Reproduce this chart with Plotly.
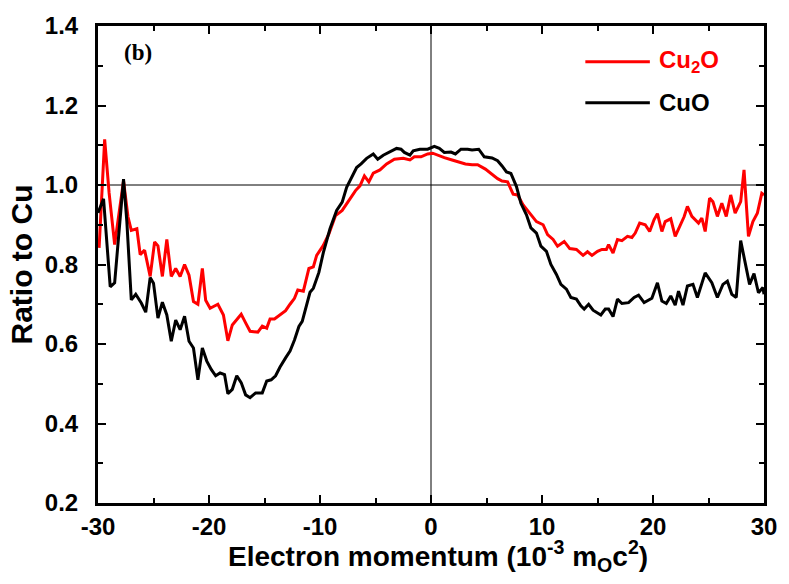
import plotly.graph_objects as go

# Cu2O / Cu ratio curve
cu2o_x = [-29.9, -29.4, -29.0, -28.5, -27.7, -27.3, -27.0, -26.5, -26.2, -25.8,
          -25.3, -24.9, -24.6, -24.2, -23.8, -23.4, -23.0, -22.6, -22.2, -21.8,
          -21.4, -21.0, -20.6, -20.3, -19.9, -19.2, -18.7, -18.3, -17.9, -17.1,
          -16.7, -16.3, -15.6, -15.2, -14.8, -14.5, -14.1, -13.6, -13.1, -12.7,
          -12.3, -12.0, -11.5, -11.0, -10.6, -10.3, -9.7, -9.2, -8.6, -8.0,
          -7.4, -6.8, -6.4, -6.0, -5.6, -5.2, -4.6, -4.0, -3.3, -2.5,
          -1.9, -1.5, -0.9, -0.3, 0.15, 0.6, 1.2, 1.9, 2.5, 3.1,
          3.7, 4.2, 4.9, 5.5, 6.0, 6.4, 6.9, 7.4, 7.8, 8.3,
          8.9, 9.5, 10.1, 10.5, 11.0, 11.4, 12.0, 12.5, 13.1, 13.7,
          14.1, 14.5, 15.0, 15.4, 15.8, 16.0, 16.4, 16.8, 17.2, 17.7,
          18.1, 18.4, 18.8, 19.3, 19.7, 20.1, 20.4, 20.8, 21.1, 21.6,
          22.0, 22.4, 22.8, 23.1, 23.5, 24.1, 24.4, 24.7, 25.1, 25.4,
          25.8, 26.2, 26.6, 27.0, 27.4, 27.9, 28.2, 28.6, 29.0, 29.4,
          29.8, 30.0]
cu2o_y = [0.842, 1.115, 0.980, 0.850, 1.010, 0.920, 0.886, 0.890, 0.825, 0.836,
          0.770, 0.857, 0.847, 0.770, 0.863, 0.770, 0.790, 0.770, 0.800, 0.773,
          0.707, 0.700, 0.790, 0.710, 0.690, 0.700, 0.673, 0.608, 0.648, 0.675,
          0.653, 0.632, 0.630, 0.645, 0.640, 0.663, 0.663, 0.673, 0.684, 0.700,
          0.715, 0.736, 0.733, 0.790, 0.794, 0.823, 0.848, 0.877, 0.923, 0.936,
          0.960, 0.986, 0.998, 1.023, 1.008, 1.030, 1.038, 1.053, 1.065, 1.067,
          1.063, 1.071, 1.071, 1.078, 1.080, 1.075, 1.069, 1.063, 1.058, 1.053,
          1.051, 1.051, 1.040, 1.026, 1.016, 1.010, 1.008, 0.977, 0.975, 0.950,
          0.929, 0.908, 0.900, 0.875, 0.863, 0.846, 0.858, 0.840, 0.838, 0.823,
          0.832, 0.823, 0.833, 0.838, 0.838, 0.850, 0.829, 0.863, 0.860, 0.871,
          0.868, 0.879, 0.904, 0.900, 0.883, 0.913, 0.928, 0.883, 0.908, 0.915,
          0.871, 0.896, 0.920, 0.946, 0.921, 0.904, 0.917, 0.883, 0.967, 0.958,
          0.921, 0.954, 0.921, 0.975, 0.929, 0.958, 1.038, 0.871, 0.908, 0.929,
          0.979, 0.975]

# CuO / Cu ratio curve
cuo_x = [-30.0, -29.5, -28.9, -28.5, -27.7, -27.4, -27.0, -26.6, -26.1, -25.7,
         -25.3, -25.0, -24.6, -24.2, -23.8, -23.4, -23.0, -22.6, -22.2, -21.8,
         -21.4, -21.0, -20.6, -20.2, -19.8, -19.4, -19.0, -18.6, -18.3, -17.9,
         -17.5, -17.1, -16.7, -16.3, -15.8, -15.2, -14.8, -14.4, -14.0, -13.6,
         -13.1, -12.7, -12.3, -11.9, -11.6, -11.3, -10.9, -10.6, -10.1, -9.7,
         -9.1, -8.5, -8.0, -7.6, -7.2, -6.7, -6.3, -5.8, -5.2, -4.8,
         -4.3, -3.7, -3.1, -2.7, -2.4, -1.9, -1.6, -1.0, -0.3, 0.3,
         0.75, 1.2, 1.8, 2.2, 2.7, 3.3, 3.7, 4.3, 4.8, 5.5,
         6.0, 6.4, 6.8, 7.2, 7.7, 8.1, 8.6, 9.0, 9.5, 9.9,
         10.4, 10.8, 11.3, 11.7, 12.2, 12.6, 13.1, 13.5, 13.8, 14.2,
         14.6, 15.3, 15.7, 16.0, 16.4, 16.8, 17.2, 17.8, 18.3, 18.7,
         19.2, 19.9, 20.4, 20.8, 21.2, 21.6, 22.0, 22.3, 22.7, 23.1,
         23.6, 24.0, 24.7, 25.3, 25.8, 26.3, 26.7, 27.1, 27.5, 27.9,
         28.3, 28.7, 29.1, 29.5, 29.9, 30.0]
cuo_y = [0.930, 0.965, 0.744, 0.754, 1.015, 0.907, 0.711, 0.725, 0.703, 0.680,
         0.767, 0.753, 0.665, 0.705, 0.673, 0.607, 0.660, 0.636, 0.670, 0.607,
         0.590, 0.510, 0.590, 0.557, 0.536, 0.520, 0.527, 0.523, 0.475, 0.486,
         0.520, 0.503, 0.472, 0.465, 0.477, 0.477, 0.507, 0.510, 0.520, 0.542,
         0.565, 0.582, 0.610, 0.644, 0.657, 0.690, 0.730, 0.740, 0.780, 0.830,
         0.890, 0.936, 0.957, 0.994, 1.015, 1.044, 1.053, 1.067, 1.078, 1.065,
         1.075, 1.083, 1.092, 1.090, 1.082, 1.075, 1.086, 1.090, 1.090, 1.097,
         1.092, 1.082, 1.083, 1.078, 1.090, 1.090, 1.088, 1.090, 1.071, 1.068,
         1.061, 1.048, 1.033, 1.029, 0.996, 0.954, 0.925, 0.892, 0.879, 0.846,
         0.833, 0.800, 0.775, 0.750, 0.738, 0.717, 0.713, 0.696, 0.688, 0.700,
         0.685, 0.673, 0.688, 0.688, 0.669, 0.713, 0.702, 0.704, 0.717, 0.723,
         0.704, 0.715, 0.754, 0.708, 0.702, 0.721, 0.698, 0.733, 0.698, 0.746,
         0.750, 0.717, 0.779, 0.754, 0.717, 0.750, 0.758, 0.725, 0.717, 0.860,
         0.808, 0.750, 0.777, 0.729, 0.742, 0.725]

x_ticks = [-30, -20, -10, 0, 10, 20, 30]
y_ticks = [0.2, 0.4, 0.6, 0.8, 1.0, 1.2, 1.4]

SANS = "Liberation Sans, Arial, sans-serif"
W, H = 789, 584
M_L, M_R, M_T, M_B = 98, 20, 24, 81
PW, PH = W - M_L - M_R, H - M_T - M_B


def px_x(p):
    return (p - M_L) / PW


def px_y(p):
    return (H - M_B - p) / PH


fig = go.Figure()
fig.add_trace(go.Scatter(x=cu2o_x, y=cu2o_y, mode="lines", name="Cu<sub>2</sub>O",
                         line=dict(color="#ff0000", width=3), showlegend=False))
fig.add_trace(go.Scatter(x=cuo_x, y=cuo_y, mode="lines", name="CuO",
                         line=dict(color="#000000", width=3), showlegend=False))

# reference lines at p = 0 and ratio = 1
fig.add_vline(x=0, line=dict(color="black", width=1), layer="below")
fig.add_hline(y=1.0, line=dict(color="black", width=1), layer="below")

# legend keys
legend_items = [("Cu<sub>2</sub>O", "#ff0000", 60), ("CuO", "#000000", 101)]
for label, color, ypx in legend_items:
    fig.add_shape(type="line", xref="paper", yref="paper",
                  x0=px_x(589), x1=px_x(654), y0=px_y(ypx), y1=px_y(ypx),
                  line=dict(color=color, width=3))
    fig.add_annotation(xref="paper", yref="paper", x=px_x(661), y=px_y(ypx),
                       xanchor="left", yanchor="middle", showarrow=False,
                       text=label, font=dict(family=SANS, size=24, color=color,
                                             weight="bold"))

fig.add_annotation(xref="paper", yref="paper", x=px_x(122), y=px_y(51),
                   xanchor="left", yanchor="middle", showarrow=False, text="(b)",
                   font=dict(family="Liberation Serif, Times New Roman, serif",
                             size=23, color="black", weight="bold"))

# x-axis title
fig.add_annotation(xref="paper", yref="paper", x=px_x(441), y=px_y(556),
                   xanchor="center", yanchor="middle", showarrow=False,
                   text="Electron momentum (10<sup>-3</sup> m<sub>O</sub>c<sup>2</sup>)",
                   font=dict(family=SANS, size=28, color="black", weight="bold"))

axis_common = dict(
    showline=True, linecolor="black", linewidth=3, mirror="allticks",
    ticks="inside", ticklen=8, tickwidth=2, tickcolor="black",
    showgrid=False, zeroline=False,
)

fig.update_xaxes(
    range=[-30, 30], tickvals=x_ticks, ticktext=[str(v) for v in x_ticks],
    tickfont=dict(family=SANS, size=24, color="black", weight="bold"),
    minor=dict(dtick=5, ticks="inside", ticklen=5, tickwidth=2, tickcolor="black",
               showgrid=False),
    ticklabelstandoff=0,
    **axis_common,
)
fig.update_yaxes(
    range=[0.2, 1.4], tickvals=y_ticks, ticktext=[f"{v:.1f}" for v in y_ticks],
    tickfont=dict(family=SANS, size=24, color="black", weight="bold"),
    minor=dict(dtick=0.1, ticks="inside", ticklen=5, tickwidth=2, tickcolor="black",
               showgrid=False),
    ticklabelstandoff=12,
    title=dict(text="Ratio to Cu",
               font=dict(family=SANS, size=30, color="black", weight="bold"),
               standoff=4),
    **axis_common,
)

fig.update_layout(
    width=W, height=H,
    margin=dict(l=M_L, r=M_R, t=M_T, b=M_B),
    paper_bgcolor="white", plot_bgcolor="white",
    showlegend=False,
)

fig.write_html("out.html")
